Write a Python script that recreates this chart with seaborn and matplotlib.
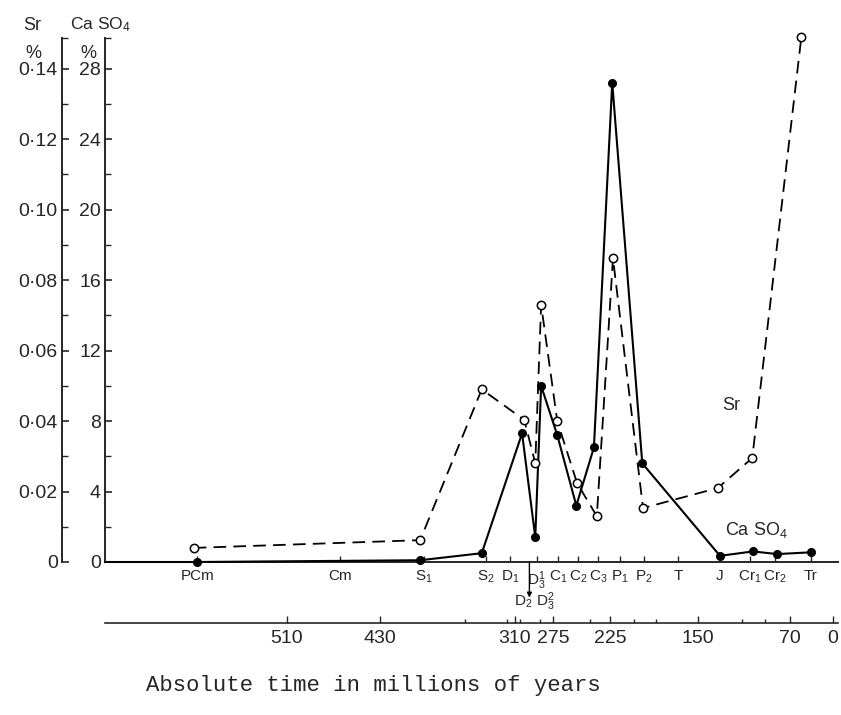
import numpy as np
import pandas as pd
import matplotlib
matplotlib.use("Agg")
import matplotlib.pyplot as plt
import seaborn as sns
from matplotlib.ticker import FixedLocator

# ---------------- data ----------------
# x = position along the stratigraphic / time column (arbitrary units 0-100)
sr_period = ["PCm", "S1", "S2", "D1", "D2", "D3'", "C1", "C2", "C3", "P1", "P2", "J", "Cr1", "Tr"]
sr_pos = [12.1, 43.0, 51.4, 57.2, 58.7, 59.5, 61.7, 64.4, 67.1, 69.3, 73.4, 83.6, 88.3, 95.0]
sr_pct = [0.004, 0.0062, 0.049, 0.0403, 0.028, 0.073, 0.040, 0.0224, 0.013, 0.0862,
          0.0153, 0.021, 0.0295, 0.149]

ca_period = ["start", "PCm", "S1", "S2", "D1", "D2", "D3'", "C1", "C2", "C3", "P1", "P2",
             "J", "Cr1", "Cr2", "Tr"]
ca_pos = [0.0, 12.6, 43.0, 51.4, 56.9, 58.7, 59.5, 61.7, 64.3, 66.7, 69.2, 73.3, 83.9,
          88.4, 91.7, 96.3]
ca_pct = [0.0, 0.0, 0.1, 0.5, 7.3, 1.4, 10.0, 7.2, 3.2, 6.5, 27.2, 5.6, 0.35, 0.6, 0.45, 0.55]

period_labels = ["PCm", "Cm", r"S$_1$", r"S$_2$", r"D$_1$", r"D$_3^1$", r"C$_1$", r"C$_2$",
                 r"C$_3$", r"P$_1$", r"P$_2$", "T", "J", r"Cr$_1$", r"Cr$_2$", "Tr"]
period_pos = [12.6, 32.1, 43.5, 52.0, 55.3, 58.9, 61.8, 64.5, 67.3, 70.3, 73.5, 78.2, 83.9,
              88.0, 91.4, 96.3]
period2_labels = [r"D$_2$", r"D$_3^2$"]
period2_pos = [57.0, 60.0]

time_labels = ["510", "430", "310", "275", "225", "150", "70", "0"]
time_pos = [24.8, 37.5, 55.9, 61.1, 68.9, 80.9, 93.5, 99.3]
time_minor = [49.1, 54.8, 56.6, 59.3, 66.1, 72.2, 75.2, 86.9, 90.0]

sr_ticks = [0, 0.02, 0.04, 0.06, 0.08, 0.10, 0.12, 0.14]
sr_ticklabels = ["0", "0·02", "0·04", "0·06", "0·08", "0·10", "0·12", "0·14"]
ca_ticks = [0, 4, 8, 12, 16, 20, 24, 28]
ca_ticklabels = ["0", "4", "8", "12", "16", "20", "24", "28"]

sr_df = pd.DataFrame({"pos": sr_pos, "Sr": sr_pct})
ca_df = pd.DataFrame({"pos": ca_pos, "CaSO4": ca_pct})

# ---------------- style ----------------
sns.set_style("white")
plt.rcParams["font.family"] = ["Liberation Sans", "DejaVu Sans"]
plt.rcParams["mathtext.fontset"] = "custom"
plt.rcParams["mathtext.rm"] = "Liberation Sans"
plt.rcParams["mathtext.it"] = "Liberation Sans"
plt.rcParams["mathtext.default"] = "regular"

fig = plt.figure(figsize=(8.41, 7.15), dpi=100)
ax_ca = fig.add_axes([105 / 841, 1 - 562 / 715, (838 - 105) / 841, (562 - 38) / 715])
ax_sr = ax_ca.twinx()

SR_TOP = 0.1487
ax_sr.set_ylim(0, SR_TOP)
ax_ca.set_ylim(0, SR_TOP * 200)
ax_ca.set_xlim(0, 100)

# ---------------- series ----------------
sns.lineplot(data=ca_df, x="pos", y="CaSO4", ax=ax_ca, color="black", linewidth=1.5,
             marker="o", markersize=5.5, markerfacecolor="black", markeredgecolor="black",
             markeredgewidth=1, markevery=list(range(1, len(ca_pos))),
             sort=False, estimator=None, clip_on=False, zorder=3)
sns.lineplot(data=sr_df, x="pos", y="Sr", ax=ax_sr, color="black", linewidth=1.3,
             linestyle=(0, (7, 4)), marker="o", markersize=6, markerfacecolor="white",
             markeredgecolor="black", markeredgewidth=1.1,
             sort=False, estimator=None, clip_on=False, zorder=3)

# ---------------- axes styling ----------------
for sp in ["top", "right"]:
    ax_ca.spines[sp].set_visible(False)
    ax_sr.spines[sp].set_visible(False)
ax_sr.spines["bottom"].set_visible(False)
ax_ca.spines["left"].set_linewidth(1.4)
ax_ca.spines["bottom"].set_linewidth(1.4)

# CaSO4 axis
ax_ca.set_yticks(ca_ticks, labels=ca_ticklabels)
ax_ca.yaxis.set_minor_locator(FixedLocator([2, 6, 10, 14, 18, 22, 26, SR_TOP * 200]))
ax_ca.tick_params(axis="y", which="major", direction="in", length=5, width=1.2,
                  labelsize=14, pad=3)
ax_ca.tick_params(axis="y", which="minor", direction="in", length=4, width=1.0, left=True)
ax_ca.set_ylabel("")

# Sr axis on the far left
ax_sr.yaxis.tick_left()
ax_sr.yaxis.set_label_position("left")
ax_sr.spines["left"].set_visible(True)
ax_sr.spines["left"].set_position(("outward", 31))
ax_sr.spines["left"].set_linewidth(1.4)
ax_sr.set_yticks(sr_ticks, labels=sr_ticklabels)
ax_sr.yaxis.set_minor_locator(FixedLocator([0.01, 0.03, 0.05, 0.07, 0.09, 0.11, 0.13, SR_TOP]))
ax_sr.tick_params(axis="y", which="major", direction="in", length=5, width=1.2,
                  labelsize=14, pad=3, left=True, right=False)
ax_sr.tick_params(axis="y", which="minor", direction="in", length=4, width=1.0,
                  left=True, right=False)
ax_sr.set_ylabel("")

# period axis
ax_ca.set_xticks(period_pos, labels=period_labels)
ax_ca.tick_params(axis="x", direction="in", length=4, width=1.0, labelsize=11, pad=5,
                  bottom=True)
ax_ca.set_xlabel("")
for lab, p in zip(period2_labels, period2_pos):
    ax_ca.text(p, -0.076, lab, transform=ax_ca.get_xaxis_transform(), ha="center",
               va="center", fontsize=11)
ax_ca.annotate("", xy=(57.9, -0.068), xytext=(57.9, 0.0),
               xycoords=ax_ca.get_xaxis_transform(),
               arrowprops=dict(arrowstyle="-|>", lw=1.0, color="black",
                               mutation_scale=7, shrinkA=0, shrinkB=0))

# absolute time axis
sec = ax_ca.secondary_xaxis(-0.1164)
sec.set_xticks(time_pos, labels=time_labels)
sec.xaxis.set_minor_locator(FixedLocator(time_minor))
sec.tick_params(axis="x", which="major", direction="in", length=5, width=1.0,
                labelsize=14, pad=5)
sec.tick_params(axis="x", which="minor", direction="in", length=3, width=1.0)
sec.spines["bottom"].set_linewidth(1.2)

# in-plot series labels
ax_ca.text(85.4, 8.9, "Sr", ha="center", va="center", fontsize=13)
ax_ca.text(88.8, 1.8, r"Ca SO$_4$", ha="center", va="center", fontsize=13)

# axis headers
fig.text(32 / 841, 1 - 25 / 715, "Sr", ha="center", va="center", fontsize=13)
fig.text(33 / 841, 1 - 53 / 715, "%", ha="center", va="center", fontsize=13)
fig.text(100 / 841, 1 - 25 / 715, r"Ca SO$_4$", ha="center", va="center", fontsize=12.5)
fig.text(88 / 841, 1 - 53 / 715, "%", ha="center", va="center", fontsize=13)

# caption
fig.text(373 / 841, 1 - 685 / 715, "Absolute time in millions of years",
         ha="center", va="center", fontsize=16, family=["Liberation Mono", "DejaVu Sans Mono"])

fig.savefig("out.png", dpi=100)
